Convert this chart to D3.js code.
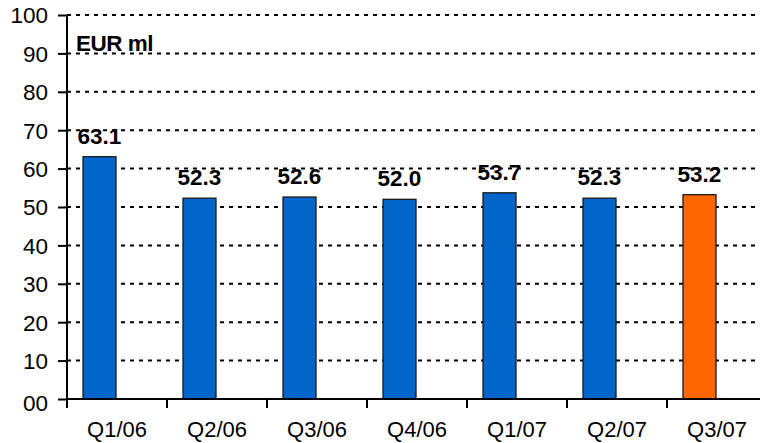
<!DOCTYPE html>
<html>
<head>
<meta charset="utf-8">
<script src="https://cdn.jsdelivr.net/npm/d3@7"></script>
<style>
  html, body { margin: 0; padding: 0; background: #fff; }
  svg { display: block; }
  text { font-family: "Liberation Sans", Arial, Helvetica, sans-serif; fill: #000; }
</style>
</head>
<body>
<svg id="chart" width="760" height="443"></svg>
<script>
const categories = ["Q1/06", "Q2/06", "Q3/06", "Q4/06", "Q1/07", "Q2/07", "Q3/07"];
const values = [63.1, 52.3, 52.6, 52.0, 53.7, 52.3, 53.2];
const valueLabels = ["63.1", "52.3", "52.6", "52.0", "53.7", "52.3", "53.2"];
const highlight = [false, false, false, false, false, false, true];
const yTicks = [0, 10, 20, 30, 40, 50, 60, 70, 80, 90, 100];
const yTickLabels = ["00", "10", "20", "30", "40", "50", "60", "70", "80", "90", "100"];
const unitLabel = "EUR ml";

const svg = d3.select("#chart");
const mLeft = 67, mRight = 767, mTop = 15, mBottom = 399;

const x = d3.scaleBand().domain(categories).range([mLeft, mRight]).padding(0);
const y = d3.scaleLinear().domain([0, 100]).range([mBottom, mTop]);

// gridlines
svg.append("g").selectAll("line")
  .data(yTicks.filter(d => d > 0))
  .join("line")
  .attr("x1", mLeft).attr("x2", 760)
  .attr("y1", d => y(d)).attr("y2", d => y(d))
  .attr("stroke", "#000").attr("stroke-width", 2)
  .attr("stroke-dasharray", "4,5");

// bars
const bw = x.bandwidth();
svg.append("g").selectAll("rect")
  .data(categories)
  .join("rect")
  .attr("x", (c) => x(c) + bw * 0.16)
  .attr("width", bw * 0.33)
  .attr("y", (c, i) => y(values[i]))
  .attr("height", (c, i) => y(0) - y(values[i]))
  .attr("fill", (c, i) => highlight[i] ? "#FF6600" : "#0066CC")
  .attr("stroke", "#1a1a1a").attr("stroke-width", 1.3);

// value labels
svg.append("g").selectAll("text")
  .data(categories)
  .join("text")
  .attr("x", (c) => x(c) + bw * 0.16 + bw * 0.165)
  .attr("y", (c, i) => y(values[i]) - 13)
  .attr("text-anchor", "middle")
  .attr("font-size", 22.5).attr("font-weight", "bold")
  .text((c, i) => valueLabels[i]);

// y axis
const yAxis = d3.axisLeft(y).tickValues(yTicks)
  .tickFormat((d, i) => yTickLabels[i]).tickSize(9).tickPadding(10);
const gy = svg.append("g").attr("transform", `translate(${mLeft},0)`).call(yAxis);
gy.select(".domain").attr("stroke", "#000").attr("stroke-width", 2)
  .attr("d", `M0,${mTop}V${mBottom + 9}`);
gy.selectAll(".tick line").attr("stroke", "#000").attr("stroke-width", 2);
gy.selectAll(".tick text").attr("font-size", 22.5).attr("font-family", "Liberation Sans, Arial, sans-serif").attr("fill", "#000")
  .attr("dy", (d) => d === 0 ? "0.5em" : "0.35em");

// x axis
const xAxis = d3.axisBottom(x).tickSize(0).tickPadding(0);
const gx = svg.append("g").attr("transform", `translate(0,${mBottom})`).call(xAxis);
gx.select(".domain").attr("stroke", "#000").attr("stroke-width", 2)
  .attr("d", `M${mLeft},0H760`);
gx.selectAll(".tick text").attr("font-size", 22).attr("font-family", "Liberation Sans, Arial, sans-serif").attr("fill", "#000")
  .attr("y", 38).attr("dy", 0);
// boundary tick marks between categories
svg.append("g").selectAll("line")
  .data(categories.slice(1))
  .join("line")
  .attr("x1", c => x(c)).attr("x2", c => x(c))
  .attr("y1", mBottom).attr("y2", mBottom + 9)
  .attr("stroke", "#000").attr("stroke-width", 2);

// unit label
svg.append("text")
  .attr("x", 76).attr("y", y(90) - 2)
  .attr("font-size", 22.5).attr("font-weight", "bold")
  .attr("letter-spacing", -0.5)
  .text(unitLabel);
</script>
</body>
</html>
